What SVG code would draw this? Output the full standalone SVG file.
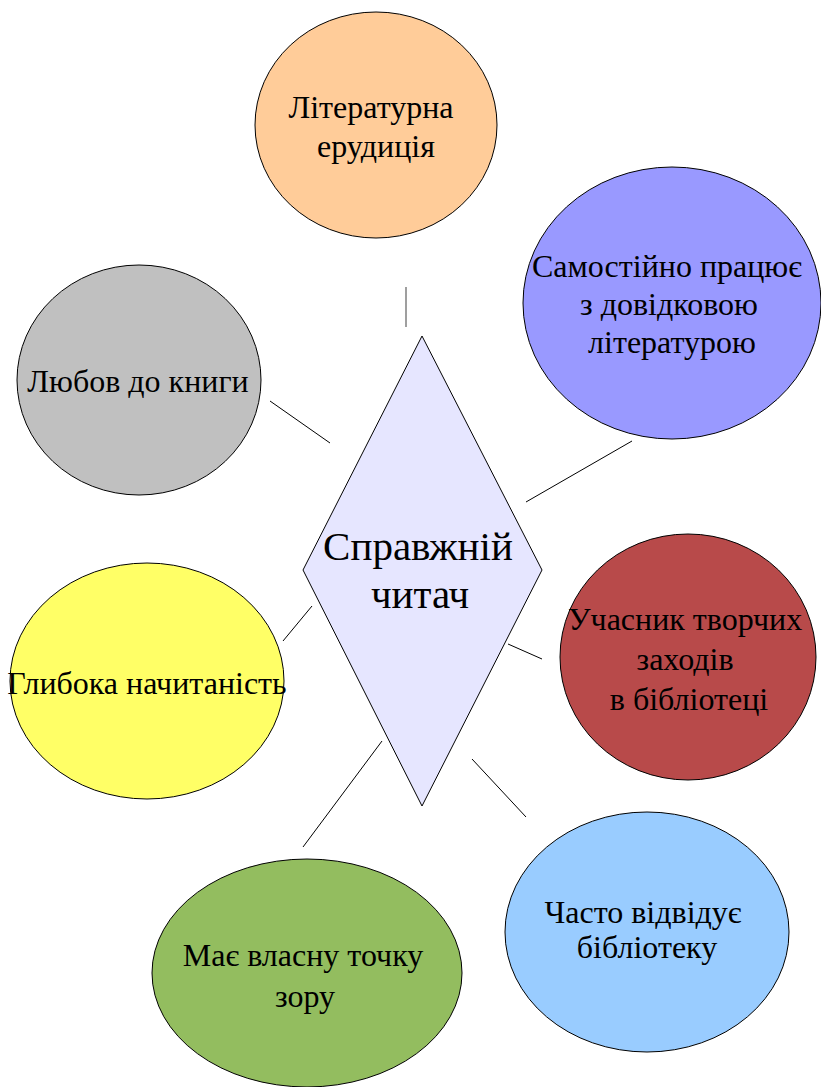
<svg xmlns="http://www.w3.org/2000/svg" width="821" height="1087" viewBox="0 0 821 1087">
<style>
.n{stroke:#000;stroke-width:1}
text{font-family:'Liberation Serif','Times New Roman',serif;fill:#000;text-anchor:middle;font-size:32px}
.big{font-size:41px}
.c line{stroke:#000;stroke-width:1}
</style>
<rect width="821" height="1087" fill="#fff"/>
<g id="connectors" class="c">
<line x1="406" y1="287" x2="406" y2="327" style="stroke:#7f7f7f;stroke-width:1.5"/>
<line x1="270" y1="401" x2="330" y2="443"/>
<line x1="526" y1="502" x2="632" y2="441"/>
<line x1="283" y1="641" x2="312" y2="606"/>
<line x1="508" y1="644" x2="542" y2="659"/>
<line x1="472" y1="759" x2="526" y2="817"/>
<line x1="382" y1="741" x2="303" y2="847"/>
</g>
<g id="node-center">
<polygon class="n" points="422,336 542,570 422,806 303,570" fill="#E6E6FF"/>
<text class="big" x="418" y="560">Справжній</text>
<text class="big" x="420" y="608">читач</text>
</g>
<g id="node-erudition">
<ellipse class="n" cx="376" cy="125" rx="121" ry="113" fill="#FFCC99"/>
<text x="371" y="118">Літературна</text>
<text x="376" y="157">ерудиція</text>
</g>
<g id="node-reference">
<ellipse class="n" cx="672" cy="303" rx="149" ry="136" fill="#9999FF"/>
<text x="667" y="277">Самостійно працює</text>
<text x="669" y="315">з довідковою</text>
<text x="672" y="353">літературою</text>
</g>
<g id="node-love">
<ellipse class="n" cx="139" cy="380" rx="122" ry="115" fill="#C0C0C0"/>
<text x="138" y="392">Любов до книги</text>
</g>
<g id="node-reading">
<ellipse class="n" cx="147" cy="681" rx="137" ry="118" fill="#FFFF66"/>
<text x="147" y="694">Глибока начитаність</text>
</g>
<g id="node-events">
<ellipse class="n" cx="688" cy="657" rx="128" ry="123" fill="#B84A4A"/>
<text x="685" y="630">Учасник творчих</text>
<text x="685" y="670">заходів</text>
<text x="689" y="710">в бібліотеці</text>
</g>
<g id="node-visits">
<ellipse class="n" cx="647" cy="932" rx="142" ry="120" fill="#99CCFF"/>
<text x="643" y="923">Часто відвідує</text>
<text x="647" y="958">бібліотеку</text>
</g>
<g id="node-opinion">
<ellipse class="n" cx="307" cy="973" rx="155" ry="114" fill="#93BD5F"/>
<text x="303" y="966">Має власну точку</text>
<text x="305" y="1007">зору</text>
</g>
</svg>
